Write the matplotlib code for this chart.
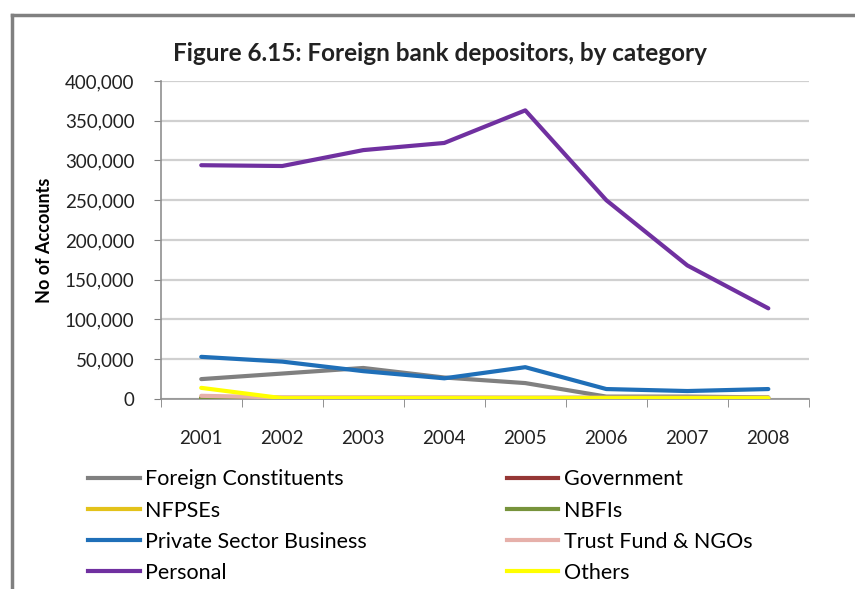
import numpy as np
import matplotlib.pyplot as plt
from matplotlib.ticker import FuncFormatter
from matplotlib.lines import Line2D

plt.rcParams['font.family'] = ['Lato', 'DejaVu Sans']

years = ['2001', '2002', '2003', '2004', '2005', '2006', '2007', '2008']

# accounts per depositor category
foreign_constituents = [25000, 32000, 39000, 27000, 20000, 3000, 3000, 2000]
government = [500, 500, 500, 500, 500, 500, 500, 500]
nfpses = [2000, 1500, 1500, 1500, 1500, 1500, 1500, 1500]
nbfis = [800, 800, 800, 800, 800, 800, 800, 800]
private_sector = [53000, 47000, 35000, 26000, 40000, 12500, 10000, 12500]
trust_ngos = [4000, 2000, 2000, 2000, 1500, 1500, 1500, 1500]
personal = [294000, 293000, 313000, 322000, 363000, 250000, 168000, 114000]
others = [14000, 1000, 1000, 1000, 1000, 1000, 1000, 1000]

series = [
    ('Foreign Constituents', foreign_constituents, '#808080'),
    ('Government', government, '#953735'),
    ('NFPSEs', nfpses, '#E3C21A'),
    ('NBFIs', nbfis, '#77933C'),
    ('Private Sector Business', private_sector, '#1F6FB8'),
    ('Trust Fund & NGOs', trust_ngos, '#E6B0AA'),
    ('Personal', personal, '#7030A0'),
    ('Others', others, '#FFFF00'),
]

fig = plt.figure(figsize=(8.55, 5.89), dpi=100)
ax = fig.add_axes([0.188, 0.3226, 0.758, 0.54])

x = np.arange(1, len(years) + 1)
# draw back to front so the small series sit under the big ones
order = [1, 3, 5, 2, 0, 7, 4, 6]
for i in order:
    name, vals, col = series[i]
    ax.plot(x, vals, color=col, lw=3, solid_capstyle='round', zorder=3 + i * 0.01)

ax.set_xlim(0.5, len(years) + 0.5)
ax.set_ylim(0, 400000)
ax.set_yticks(np.arange(0, 400001, 50000))
ax.yaxis.set_major_formatter(FuncFormatter(lambda v, p: f'{int(v):,}'))
ax.set_xticks(x)
ax.set_xticklabels(years)
ax.set_xticks(np.arange(0.5, len(years) + 1), minor=True)
ax.tick_params(axis='x', which='major', length=0, pad=22, labelsize=13.5, colors='#222222')
ax.tick_params(axis='x', which='minor', length=6, color='#808080', direction='out')
ax.tick_params(axis='y', length=5, color='#808080', labelsize=13.5, colors='#222222', pad=14)
ax.grid(axis='y', color='#D0D0D0', lw=1.6, zorder=0)
for s in ['top', 'right']:
    ax.spines[s].set_visible(False)
for s in ['left', 'bottom']:
    ax.spines[s].set_color('#909090')
    ax.spines[s].set_linewidth(1.2)

ax.set_ylabel('No of Accounts', fontsize=13, fontweight='bold', labelpad=8)
fig.text(0.515, 0.91, 'Figure 6.15: Foreign bank depositors, by category',
         ha='center', va='center', fontsize=17.5, fontweight='bold', color='#222222')

handles = [Line2D([0], [0], color=c, lw=3) for _, _, c in series]
labels = [n for n, _, _ in series]
# two columns, row-wise reading order
leg_order = [0, 2, 4, 6, 1, 3, 5, 7]
fig.legend([handles[i] for i in leg_order], [labels[i] for i in leg_order],
           ncol=2, loc='upper left', bbox_to_anchor=(0.103, 0.203),
           frameon=False, fontsize=15.5, handlelength=2.4, handletextpad=0.25,
           columnspacing=6.5, labelspacing=0.52, borderaxespad=0, borderpad=0)

# outer frame on top and left edges
fig.add_artist(Line2D([12 / 855, 1], [1 - 15 / 589] * 2, color='#808080', lw=2.5))
fig.add_artist(Line2D([12 / 855] * 2, [0, 1 - 15 / 589], color='#808080', lw=2.5))

fig.savefig('out.png', dpi=100)
